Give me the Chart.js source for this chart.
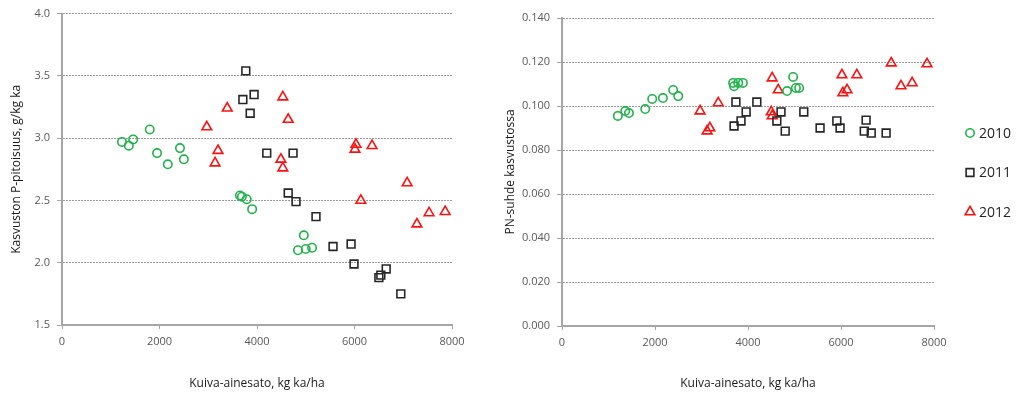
<!DOCTYPE html>
<html><head><meta charset="utf-8">
<script src="https://cdn.jsdelivr.net/npm/chart.js@4/dist/chart.umd.min.js"></script>
<style>
html,body{margin:0;padding:0;background:#fff;width:1019px;height:399px;overflow:hidden}
#w1{position:absolute;left:0;top:0;width:500px;height:399px}
#w2{position:absolute;left:500px;top:0;width:519px;height:399px}
</style></head><body>
<div id="w1"><canvas id="c1" width="500" height="399"></canvas></div>
<div id="w2"><canvas id="c2" width="519" height="399"></canvas></div>
<script>
// ---- data ----
const years = ['2010', '2011', '2012'];
const xTickValues = [0, 2000, 4000, 6000, 8000];
const pTickValues = [1.5, 2.0, 2.5, 3.0, 3.5, 4.0];
const pnTickValues = [0, 0.02, 0.04, 0.06, 0.08, 0.10, 0.12, 0.14];

// Left chart: P-pitoisuus
const p2010x = [1230, 1370, 1460, 1800, 1950, 2170, 2420, 2500, 3650, 3690, 3790, 3900, 4840, 4960, 5000, 5130];
const p2010y = [2.97, 2.94, 2.99, 3.07, 2.88, 2.79, 2.92, 2.83, 2.54, 2.53, 2.51, 2.43, 2.10, 2.22, 2.11, 2.12];
const p2011x = [3710, 3770, 3860, 3940, 4200, 4640, 4740, 4800, 5210, 5560, 5930, 5990, 6500, 6540, 6650, 6950];
const p2011y = [3.31, 3.54, 3.20, 3.35, 2.88, 2.56, 2.88, 2.49, 2.37, 2.13, 2.15, 1.99, 1.88, 1.90, 1.95, 1.75];
const p2012x = [2970, 3140, 3200, 3390, 4490, 4530, 4530, 4640, 6010, 6030, 6130, 6360, 7080, 7280, 7530, 7860];
const p2012y = [3.09, 2.80, 2.90, 3.24, 2.83, 2.76, 3.33, 3.15, 2.91, 2.95, 2.50, 2.94, 2.64, 2.31, 2.40, 2.41];

// Right chart: PN-suhde
const pn2010x = [1200, 1360, 1440, 1790, 1940, 2170, 2390, 2500, 3680, 3700, 3790, 3890, 4840, 4970, 5030, 5100];
const pn2010y = [0.0955, 0.0977, 0.0968, 0.0986, 0.1032, 0.1036, 0.1073, 0.1045, 0.1105, 0.1090, 0.1105, 0.1105, 0.1068, 0.1132, 0.1082, 0.1082];
const pn2011x = [3700, 3740, 3850, 3960, 4190, 4620, 4710, 4800, 5200, 5550, 5910, 5980, 6500, 6540, 6650, 6970];
const pn2011y = [0.0909, 0.1018, 0.0932, 0.0973, 0.1018, 0.0932, 0.0973, 0.0886, 0.0973, 0.0900, 0.0932, 0.0900, 0.0886, 0.0936, 0.0877, 0.0877];
const pn2012x = [2970, 3120, 3180, 3360, 4500, 4520, 4520, 4650, 6020, 6040, 6130, 6340, 7080, 7290, 7530, 7850];
const pn2012y = [0.0977, 0.0886, 0.0900, 0.1014, 0.0973, 0.0955, 0.1127, 0.1073, 0.1141, 0.1059, 0.1073, 0.1141, 0.1195, 0.1091, 0.1105, 0.1191];

const xTitle = 'Kuiva-ainesato, kg ka/ha';
const pTitle = 'Kasvuston P-pitoisuus, g/kg ka';
const pnTitle = 'PN-suhde kasvustossa';

// ---- styles ----
const styles = [
  { color: '#22b24c', pointStyle: 'circle', radius: 4.2 },
  { color: '#262626', pointStyle: 'rect', radius: 5.5 },
  { color: '#ff1010', pointStyle: 'triangle', radius: 5.6 }
];
const FONT = '"Open Sans", "DejaVu Sans", sans-serif';
const zip = (xs, ys) => xs.map((x, i) => ({ x: x, y: ys[i] }));

function makeDatasets(pairs) {
  return pairs.map((p, i) => ({
    label: years[i],
    data: zip(p[0], p[1]),
    pointStyle: styles[i].pointStyle,
    pointRadius: styles[i].radius,
    pointHoverRadius: styles[i].radius,
    pointBorderWidth: 1.6,
    pointBorderColor: styles[i].color,
    pointBackgroundColor: 'rgba(255,255,255,0)',
    borderColor: styles[i].color,
    backgroundColor: 'rgba(255,255,255,0)',
    showLine: false
  }));
}

function scales(yTicks, yTitleText, decimals, yTitlePad, xHeight) {
  return {
    x: {
      type: 'linear',
      min: xTickValues[0], max: xTickValues[xTickValues.length - 1],
      afterBuildTicks: s => { s.ticks = xTickValues.map(v => ({ value: v })); },
      afterFit: s => { s.height = xHeight; },
      grid: { display: true, drawOnChartArea: false, drawTicks: true, tickLength: 4, color: '#a6a6a6', tickColor: '#a6a6a6', tickWidth: 1 },
      border: { display: true, color: '#a6a6a6', width: 2 },
      ticks: { color: '#595959', font: { family: FONT, size: 11 }, padding: 6, maxRotation: 0, callback: v => String(v) },
      title: { display: true, text: xTitle, color: '#1a1a1a', font: { family: FONT, size: 12 }, padding: { top: 0, bottom: 8 } }
    },
    y: {
      type: 'linear',
      min: yTicks[0], max: yTicks[yTicks.length - 1],
      afterBuildTicks: s => { s.ticks = yTicks.map(v => ({ value: v })); },
      afterFit: s => { s.width = 62; },
      grid: { display: true, drawTicks: true, tickLength: 5, color: '#9a9a9a', lineWidth: 1, tickColor: '#a6a6a6', tickBorderDash: [] },
      border: { display: true, color: '#a6a6a6', width: 2, dash: [2, 1] },
      ticks: { color: '#595959', font: { family: FONT, size: 11 }, padding: 7, callback: v => Number(v).toFixed(decimals) },
      title: { display: true, text: yTitleText, color: '#1a1a1a', font: { family: FONT, size: 12 }, padding: yTitlePad }
    }
  };
}

const sideLegend = {
  id: 'sideLegend',
  afterDraw(chart) {
    const ctx = chart.ctx;
    const x0 = chart.chartArea.right + 36;
    const y0 = chart.chartArea.top + 115;
    chart.data.datasets.forEach((ds, i) => {
      const y = y0 + i * 39.5;
      ctx.save();
      ctx.strokeStyle = styles[i].color;
      ctx.fillStyle = '#ffffff';
      ctx.lineWidth = 1.6;
      Chart.helpers.drawPoint(ctx, { pointStyle: styles[i].pointStyle, radius: styles[i].radius, rotation: 0, borderWidth: 1.6 }, x0, y);
      ctx.fillStyle = '#262626';
      ctx.font = '14px ' + FONT;
      ctx.textBaseline = 'middle';
      ctx.textAlign = 'left';
      ctx.fillText(ds.label, x0 + 9, y + 1);
      ctx.restore();
    });
  }
};

const common = {
  responsive: false,
  animation: false,
  events: [],
  plugins: { legend: { display: false }, tooltip: { enabled: false } }
};

new Chart(document.getElementById('c1'), {
  type: 'scatter',
  data: { datasets: makeDatasets([[p2010x, p2010y], [p2011x, p2011y], [p2012x, p2012y]]) },
  options: Object.assign({}, common, {
    layout: { padding: { top: 13, right: 48, left: 0, bottom: 0 } },
    scales: scales(pTickValues, pTitle, 1, 9, 74)
  })
});

new Chart(document.getElementById('c2'), {
  type: 'scatter',
  data: { datasets: makeDatasets([[pn2010x, pn2010y], [pn2011x, pn2011y], [pn2012x, pn2012y]]) },
  options: Object.assign({}, common, {
    layout: { padding: { top: 18, right: 85, left: 0, bottom: 0 } },
    scales: scales(pnTickValues, pnTitle, 3, 3, 73)
  }),
  plugins: [sideLegend]
});
</script>
</body></html>
